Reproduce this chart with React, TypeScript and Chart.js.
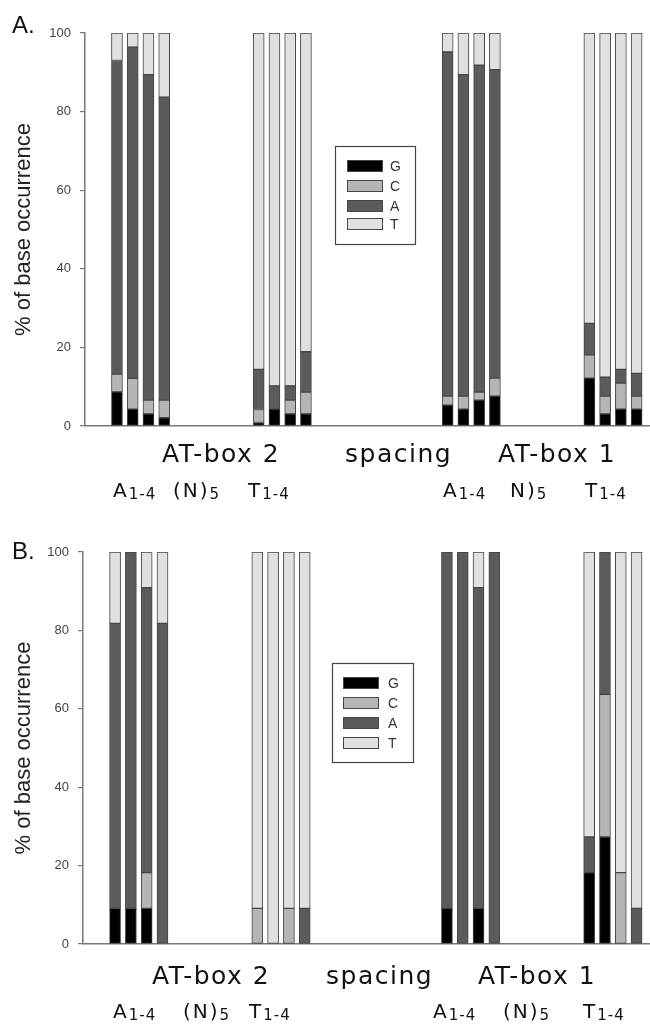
import React, { useEffect, useRef } from "react";
import { Chart, registerables } from "chart.js";

Chart.register(...registerables);

// ---------- data ----------
const BASES = ["G", "C", "A", "T"];
// slot index of each bar along the sequence (A1-4, (N)5, T1-4, spacing, A1-4, (N)5, T1-4)
const SLOTS = [0, 1, 2, 3, 9, 10, 11, 12, 21, 22, 23, 24, 30, 31, 32, 33];
const Y_TICKS = [0, 20, 40, 60, 80, 100];

// Panel A (% of base occurrence per position)
const A_G = [8.7, 4.3, 3.1, 2.1, 0.9, 4.3, 3.1, 3.1, 5.3, 4.3, 6.6, 7.6, 12.2, 3.1, 4.3, 4.3];
const A_C = [4.5, 7.8, 3.5, 4.5, 3.3, 0, 3.5, 5.5, 2.3, 3.3, 2.0, 4.6, 5.9, 4.5, 6.6, 3.3];
const A_A = [79.8, 84.3, 82.8, 77.1, 10.2, 5.9, 3.6, 10.3, 87.6, 81.8, 83.2, 78.5, 8.0, 4.8, 3.5, 5.8];
const A_T = [7.0, 3.6, 10.6, 16.3, 85.6, 89.8, 89.8, 81.1, 4.8, 10.6, 8.2, 9.3, 73.9, 87.6, 85.6, 86.6];

// Panel B
const B_G = [9.1, 9.1, 9.1, 0, 0, 0, 0, 0, 9.1, 0, 9.1, 0, 18.2, 27.3, 0, 0];
const B_C = [0, 0, 9.1, 0, 9.1, 0, 9.1, 0, 0, 0, 0, 0, 0, 36.4, 18.2, 0];
const B_A = [72.7, 90.9, 72.7, 81.8, 0, 0, 0, 9.1, 90.9, 100, 81.8, 100, 9.1, 36.3, 0, 9.1];
const B_T = [18.2, 0, 9.1, 18.2, 90.9, 100, 90.9, 90.9, 0, 0, 9.1, 0, 72.7, 0, 81.8, 90.9];

const Y_TITLE = "% of base occurrence";
const ROW1 = ["AT-box 2", "spacing", "AT-box 1"];
const ROW2_A: [string, string][] = [["A", "1-4"], ["(N)", "5"], ["T", "1-4"], ["A", "1-4"], ["N)", "5"], ["T", "1-4"]];
const ROW2_B: [string, string][] = [["A", "1-4"], ["(N)", "5"], ["T", "1-4"], ["A", "1-4"], ["(N)", "5"], ["T", "1-4"]];

// ---------- styles / layout ----------
const COLORS: Record<string, string> = { G: "#000000", C: "#b5b5b5", A: "#5b5b5b", T: "#e0e0e0" };
const EDGE = "#454545";

interface PanelCfg {
  letter: string;
  top: number;
  height: number;
  areaTop: number;
  areaBottom: number;
  axisX: number;
  letterX: number;
  letterY: number;
  row1X: number[];
  row1Y: number;
  row2: [string, string][];
  row2X: number[];
  row2Y: number;
  legend: { x: number; y: number; w: number; h: number; rowY: number[]; swX: number; textX: number };
  series: number[][];
}

const PANELS: PanelCfg[] = [
  {
    letter: "A.",
    top: 0,
    height: 500,
    areaTop: 33,
    areaBottom: 426,
    axisX: 85,
    letterX: 12,
    letterY: 33,
    row1X: [162, 345, 498],
    row1Y: 462,
    row2: ROW2_A,
    row2X: [113, 173, 248, 443, 510, 585],
    row2Y: 497,
    legend: { x: 335, y: 146, w: 80, h: 98, rowY: [166, 186, 206, 224], swX: 347, textX: 390 },
    series: [A_G, A_C, A_A, A_T],
  },
  {
    letter: "B.",
    top: 500,
    height: 524,
    areaTop: 52,
    areaBottom: 444,
    axisX: 83,
    letterX: 12,
    letterY: 59,
    row1X: [152, 326, 478],
    row1Y: 484,
    row2: ROW2_B,
    row2X: [113, 183, 249, 433, 503, 583],
    row2Y: 518,
    legend: { x: 332, y: 163, w: 81, h: 99, rowY: [183, 203, 223, 243], swX: 343, textX: 388 },
    series: [B_G, B_C, B_A, B_T],
  },
];

function overlayPlugin(cfg: PanelCfg) {
  return {
    id: "overlay" + cfg.letter,
    afterDraw(chart: any) {
      const ctx: CanvasRenderingContext2D = chart.ctx;
      ctx.save();
      ctx.fillStyle = "#111";
      ctx.textAlign = "left";
      ctx.textBaseline = "alphabetic";
      // panel letter
      ctx.font = '24px "Liberation Sans", Arial, sans-serif';
      ctx.fillText(cfg.letter, cfg.letterX, cfg.letterY);
      // row 1 labels
      ctx.font = '25px "DejaVu Sans", Verdana, sans-serif';
      (ctx as any).letterSpacing = "1.5px";
      ROW1.forEach((t, i) => ctx.fillText(t, cfg.row1X[i], cfg.row1Y));
      // row 2 labels with subscripts
      cfg.row2.forEach(([main, sub], i) => {
        (ctx as any).letterSpacing = "2px";
        ctx.font = '20px "DejaVu Sans", Verdana, sans-serif';
        ctx.fillText(main, cfg.row2X[i], cfg.row2Y);
        const w = ctx.measureText(main).width;
        (ctx as any).letterSpacing = "1px";
        ctx.font = '15px "DejaVu Sans", Verdana, sans-serif';
        ctx.fillText(sub, cfg.row2X[i] + w, cfg.row2Y + 2);
      });
      (ctx as any).letterSpacing = "0px";
      // legend
      const L = cfg.legend;
      ctx.fillStyle = "#ffffff";
      ctx.fillRect(L.x, L.y, L.w, L.h);
      ctx.strokeStyle = "#444";
      ctx.lineWidth = 1.2;
      ctx.strokeRect(L.x + 0.5, L.y + 0.5, L.w, L.h);
      ctx.font = '14px "Liberation Sans", Arial, sans-serif';
      ctx.textBaseline = "middle";
      BASES.forEach((b, i) => {
        const yy = L.rowY[i];
        ctx.fillStyle = COLORS[b];
        ctx.fillRect(L.swX, yy - 6, 36, 12);
        ctx.strokeStyle = EDGE;
        ctx.lineWidth = 1;
        ctx.strokeRect(L.swX + 0.5, yy - 5.5, 35, 11);
        ctx.fillStyle = "#333";
        ctx.fillText(b, L.textX, yy + 1);
      });
      ctx.restore();
    },
  };
}

function Panel({ cfg }: { cfg: PanelCfg }) {
  const ref = useRef<HTMLCanvasElement>(null);
  useEffect(() => {
    if (!ref.current) return;
    const datasets = BASES.map((b, k) => ({
      label: b,
      data: SLOTS.map((s, i) => ({ x: s, y: cfg.series[k][i] === 0 ? null : cfg.series[k][i] })),
      backgroundColor: COLORS[b],
      borderColor: EDGE,
      borderWidth: 1,
      borderSkipped: false,
      barThickness: 11,
    }));
    const chart = new Chart(ref.current, {
      type: "bar",
      data: { datasets: datasets as any },
      options: {
        animation: false,
        responsive: true,
        maintainAspectRatio: false,
        layout: { padding: { top: cfg.areaTop, bottom: cfg.height - cfg.areaBottom, left: 0, right: 0 } },
        plugins: { legend: { display: false }, tooltip: { enabled: false } },
        scales: {
          x: {
            type: "linear",
            stacked: true,
            offset: false,
            min: -2.03,
            max: 33.85,
            grid: { display: false },
            ticks: { display: false },
            border: { display: true, color: "#777", width: 1.5 },
            afterFit: (s: any) => {
              s.height = 0;
            },
          },
          y: {
            stacked: true,
            min: 0,
            max: 100,
            afterBuildTicks: (s: any) => {
              s.ticks = Y_TICKS.map((v) => ({ value: v }));
            },
            grid: { display: true, drawOnChartArea: false, drawTicks: true, tickLength: 5, color: "#777", lineWidth: 1.2 },
            border: { display: true, color: "#777", width: 1.5 },
            ticks: {
              padding: 9,
              color: "#444",
              font: { family: '"Liberation Sans", Arial, sans-serif', size: 13 },
            },
            title: {
              display: true,
              text: Y_TITLE,
              color: "#222",
              padding: { top: 11, bottom: 0 },
              font: { family: '"Liberation Sans", Arial, sans-serif', size: 22 },
            },
            afterFit: (s: any) => {
              s.width = cfg.axisX;
            },
          },
        },
      },
      plugins: [overlayPlugin(cfg)],
    });
    return () => chart.destroy();
  }, [cfg]);
  return (
    <div style={{ position: "absolute", left: 0, top: cfg.top, width: 650, height: cfg.height }}>
      <canvas ref={ref} />
    </div>
  );
}

export default function App() {
  return (
    <div style={{ position: "absolute", left: 0, top: 0, width: 650, height: 1024, background: "#fff" }}>
      {PANELS.map((p) => (
        <Panel key={p.letter} cfg={p} />
      ))}
    </div>
  );
}
